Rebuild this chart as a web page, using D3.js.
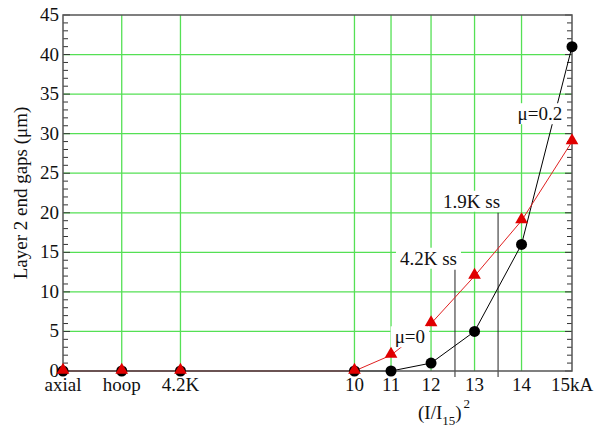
<!DOCTYPE html>
<html>
<head>
<meta charset="utf-8">
<script src="https://cdn.jsdelivr.net/npm/d3@7"></script>
<style>
  body { margin: 0; background: #fff; }
  text { font-family: "Liberation Serif", "DejaVu Serif", serif; fill: #111; }
</style>
</head>
<body>
<script>
var w = 605;
var h = 428;

// x positions are (I/I15)^2, the first three are load steps placed to the left
var categories = ["axial", "hoop", "4.2K", "10", "11", "12", "13", "14", "15kA"];
var xPos = [-0.3, -0.15, 0, 0.4444, 0.5378, 0.64, 0.7511, 0.8711, 1.0];
var muZero = [0, 0, 0, 0, 2, 6, 12, 19, 29];           // red triangles
var muPoint2 = [0, 0, 0, 0, 0, 1, 5, 16, 41];          // black circles
var yTicks = [0, 5, 10, 15, 20, 25, 30, 35, 40, 45];

// short-sample limits (kA) with the top of their marker line (um)
var ssNames = ["4.2K ss", "1.9K ss"];
var ssCurrent = [12.56, 13.51];
var ssTop = [12.8, 20.0];

var margin = {left: 63, right: 33, top: 15, bottom: 57};

var svg = d3.select("body")
    .append("svg")
    .attr("width", w)
    .attr("height", h);

var x = d3.scaleLinear().domain([-0.3, 1.0]).range([margin.left, w - margin.right]);
var y = d3.scaleLinear().domain([0, 45]).range([h - margin.bottom, margin.top]);

var grid = svg.append("g").attr("stroke", "#55e055").attr("stroke-width", 1.3);
grid.selectAll("line.v")
    .data(xPos.slice(1, -1))
    .enter()
    .append("line")
    .attr("x1", function (d) { return x(d); })
    .attr("x2", function (d) { return x(d); })
    .attr("y1", y(45))
    .attr("y2", y(0));
grid.selectAll("line.h")
    .data(yTicks.slice(1, -1))
    .enter()
    .append("line")
    .attr("x1", x(-0.3))
    .attr("x2", x(1))
    .attr("y1", function (d) { return y(d); })
    .attr("y2", function (d) { return y(d); });

// y axis ticks, inward on both sides
var minor = d3.range(0, 46, 1);
function tickSide(x0, dir) {
    svg.append("g").selectAll("line")
        .data(minor)
        .enter()
        .append("line")
        .attr("x1", x0)
        .attr("x2", function (d) { return x0 + dir * (d % 5 === 0 ? 7 : 5); })
        .attr("y1", function (d) { return y(d); })
        .attr("y2", function (d) { return y(d); })
        .attr("stroke", "#333")
        .attr("stroke-width", 1);
}
tickSide(x(-0.3), 1);
tickSide(x(1), -1);

svg.append("g").selectAll("text")
    .data(yTicks)
    .enter()
    .append("text")
    .attr("x", x(-0.3) - 4)
    .attr("y", function (d) { return y(d) + 6; })
    .attr("text-anchor", "end")
    .attr("font-size", "19px")
    .text(function (d) { return d; });

svg.append("g").selectAll("text")
    .data(categories)
    .enter()
    .append("text")
    .attr("x", function (d, i) { return x(xPos[i]); })
    .attr("y", y(0) + 20)
    .attr("text-anchor", "middle")
    .attr("font-size", "19px")
    .text(function (d) { return d; });

svg.append("text")
    .attr("transform", "translate(27," + y(22.5) + ") rotate(-90)")
    .attr("text-anchor", "middle")
    .attr("font-size", "19px")
    .text("Layer 2 end gaps (\u03bcm)");

var xt = svg.append("text")
    .attr("x", 418)
    .attr("y", 419)
    .attr("font-size", "19px");
xt.append("tspan").text("(I/I");
xt.append("tspan").attr("font-size", "13px").attr("dy", 6).text("15");
xt.append("tspan").attr("dy", -6).text(")");
xt.append("tspan").attr("font-size", "13px").attr("dy", -11).attr("dx", 2).text("2");

// short-sample marker lines
svg.append("g").selectAll("line")
    .data(ssCurrent)
    .enter()
    .append("line")
    .attr("x1", function (d) { return x(Math.pow(d / 15, 2)); })
    .attr("x2", function (d) { return x(Math.pow(d / 15, 2)); })
    .attr("y1", function (d, i) { return y(ssTop[i]); })
    .attr("y2", y(0) + 6)
    .attr("stroke", "#222")
    .attr("stroke-width", 1);

var idx = d3.range(categories.length);
var lineBlack = d3.line()
    .x(function (i) { return x(xPos[i]); })
    .y(function (i) { return y(muPoint2[i]); });
var lineRed = d3.line()
    .x(function (i) { return x(xPos[i]); })
    .y(function (i) { return y(muZero[i]); });

svg.append("path").attr("d", lineBlack(idx)).attr("fill", "none").attr("stroke", "#000").attr("stroke-width", 1);
svg.append("path").attr("d", lineRed(idx)).attr("fill", "none").attr("stroke", "#e02020").attr("stroke-width", 1);

// frame drawn over the lines lying on zero
svg.append("rect")
    .attr("x", x(-0.3))
    .attr("y", y(45))
    .attr("width", x(1) - x(-0.3))
    .attr("height", y(0) - y(45))
    .attr("fill", "none")
    .attr("stroke", "#555")
    .attr("stroke-width", 1.5);

svg.append("g").selectAll("circle")
    .data(idx)
    .enter()
    .append("circle")
    .attr("cx", function (i) { return x(xPos[i]); })
    .attr("cy", function (i) { return y(muPoint2[i]); })
    .attr("r", 5.5)
    .attr("fill", "#000");

var tri = d3.symbol().type(d3.symbolTriangle).size(70);
svg.append("g").selectAll("path")
    .data(idx)
    .enter()
    .append("path")
    .attr("d", tri)
    .attr("transform", function (i) { return "translate(" + x(xPos[i]) + "," + (y(muZero[i]) - 1) + ")"; })
    .attr("fill", "#e00000");

// labels with white boxes
function boxLabel(px, py, anchor, str) {
    var g = svg.append("g");
    var r = g.append("rect").attr("fill", "#fff");
    var t = g.append("text")
        .attr("x", px)
        .attr("y", py)
        .attr("text-anchor", anchor)
        .attr("font-size", "19px")
        .text(str);
    var b = t.node().getBBox();
    r.attr("x", b.x - 4).attr("y", b.y).attr("width", b.width + 8).attr("height", b.height);
}
ssNames.forEach(function (s, i) {
    boxLabel(x(Math.pow(ssCurrent[i] / 15, 2)) + 2, y(ssTop[i]) - 5, "end", s);
});
boxLabel(x(0.586), y(3.5), "middle", "\u03bc=0");
boxLabel(x(0.918), y(31.7), "middle", "\u03bc=0.2");
</script>
</body>
</html>
